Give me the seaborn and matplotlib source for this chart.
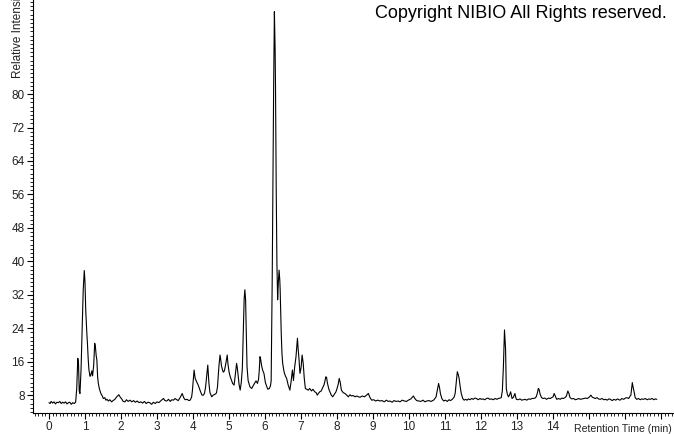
import numpy as np
import pandas as pd
import matplotlib
matplotlib.use('Agg')
import matplotlib.pyplot as plt
from matplotlib.ticker import MultipleLocator
import seaborn as sns

# 保留时间 (min) 与相对强度
retention_time = [
    0.00, 0.03, 0.06, 0.10, 0.14, 0.18, 0.22, 0.26, 0.30, 0.34, 0.38, 0.42, 0.46, 0.50, 0.54, 0.58,
    0.62, 0.66, 0.70, 0.74, 0.77, 0.80, 0.82, 0.84, 0.86, 0.89, 0.92, 0.95, 0.98, 1.00, 1.02, 1.05,
    1.07, 1.09, 1.11, 1.14, 1.16, 1.19, 1.21, 1.24, 1.27, 1.29, 1.31, 1.33, 1.35, 1.37, 1.40, 1.44,
    1.48, 1.51, 1.55, 1.58, 1.61, 1.65, 1.69, 1.74, 1.78, 1.83, 1.88, 1.94, 1.98, 2.02, 2.06, 2.11,
    2.15, 2.20, 2.25, 2.30, 2.35, 2.40, 2.45, 2.50, 2.55, 2.60, 2.65, 2.70, 2.75, 2.80, 2.85, 2.90,
    2.95, 3.00, 3.05, 3.10, 3.15, 3.18, 3.22, 3.27, 3.32, 3.37, 3.41, 3.46, 3.50, 3.55, 3.59, 3.64,
    3.70, 3.74, 3.78, 3.84, 3.88, 3.92, 3.96, 3.98, 4.01, 4.03, 4.06, 4.08, 4.11, 4.14, 4.18, 4.21,
    4.25, 4.29, 4.32, 4.35, 4.38, 4.41, 4.44, 4.47, 4.50, 4.52, 4.56, 4.61, 4.65, 4.68, 4.72, 4.75,
    4.77, 4.79, 4.82, 4.84, 4.87, 4.90, 4.93, 4.95, 4.97, 5.00, 5.03, 5.07, 5.10, 5.14, 5.17, 5.21,
    5.23, 5.25, 5.28, 5.31, 5.34, 5.37, 5.40, 5.42, 5.44, 5.46, 5.48, 5.50, 5.53, 5.58, 5.63, 5.68,
    5.72, 5.75, 5.79, 5.82, 5.84, 5.86, 5.88, 5.91, 5.94, 5.97, 6.01, 6.05, 6.08, 6.12, 6.15, 6.17,
    6.20, 6.22, 6.24, 6.26, 6.28, 6.29, 6.31, 6.33, 6.35, 6.37, 6.39, 6.41, 6.42, 6.45, 6.47, 6.49,
    6.52, 6.54, 6.57, 6.60, 6.64, 6.69, 6.72, 6.76, 6.79, 6.82, 6.86, 6.88, 6.90, 6.92, 6.94, 6.97,
    7.00, 7.03, 7.06, 7.09, 7.12, 7.16, 7.20, 7.24, 7.29, 7.33, 7.38, 7.42, 7.45, 7.49, 7.52, 7.56,
    7.59, 7.64, 7.69, 7.71, 7.73, 7.77, 7.80, 7.84, 7.88, 7.91, 7.94, 7.97, 8.00, 8.03, 8.06, 8.09,
    8.12, 8.17, 8.22, 8.27, 8.31, 8.36, 8.40, 8.45, 8.50, 8.55, 8.59, 8.64, 8.70, 8.76, 8.82, 8.87,
    8.91, 8.96, 9.02, 9.07, 9.13, 9.19, 9.25, 9.31, 9.37, 9.42, 9.47, 9.53, 9.58, 9.64, 9.70, 9.75,
    9.81, 9.87, 9.93, 9.98, 10.05, 10.12, 10.16, 10.21, 10.27, 10.33, 10.39, 10.44, 10.49, 10.55, 10.61, 10.68,
    10.72, 10.75, 10.79, 10.82, 10.85, 10.87, 10.91, 10.96, 11.01, 11.06, 11.11, 11.15, 11.20, 11.25, 11.28, 11.31,
    11.34, 11.37, 11.39, 11.42, 11.45, 11.49, 11.53, 11.57, 11.61, 11.65, 11.69, 11.74, 11.78, 11.83, 11.87, 11.92,
    11.97, 12.01, 12.05, 12.10, 12.15, 12.19, 12.24, 12.29, 12.34, 12.39, 12.44, 12.48, 12.53, 12.56, 12.59, 12.62,
    12.64, 12.65, 12.66, 12.68, 12.69, 12.70, 12.73, 12.76, 12.79, 12.82, 12.84, 12.86, 12.90, 12.94, 12.96, 12.98,
    13.03, 13.08, 13.13, 13.17, 13.22, 13.27, 13.32, 13.37, 13.41, 13.45, 13.50, 13.53, 13.56, 13.59, 13.61, 13.64,
    13.68, 13.72, 13.77, 13.82, 13.87, 13.92, 13.96, 14.00, 14.03, 14.06, 14.10, 14.15, 14.20, 14.24, 14.28, 14.33,
    14.37, 14.41, 14.44, 14.47, 14.52, 14.57, 14.62, 14.66, 14.71, 14.76, 14.81, 14.85, 14.90, 14.95, 15.00, 15.05,
    15.09, 15.12, 15.17, 15.22, 15.26, 15.31, 15.36, 15.41, 15.46, 15.50, 15.55, 15.59, 15.64, 15.69, 15.74, 15.79,
    15.83, 15.86, 15.91, 15.96, 16.01, 16.05, 16.10, 16.14, 16.16, 16.18, 16.20, 16.22, 16.25, 16.28, 16.32, 16.37,
    16.42, 16.46, 16.51, 16.56, 16.61, 16.66, 16.70, 16.75, 16.80, 16.84, 16.88,
]
intensity = [
    6.2, 6.0, 6.5, 6.1, 6.4, 5.9, 6.3, 6.2, 6.5, 6.0, 6.3, 6.1, 6.4, 5.9, 6.2, 6.3,
    5.8, 6.2, 6.0, 6.3, 9.5, 16.8, 15.5, 9.0, 8.4, 14.0, 24.0, 33.0, 37.8, 35.0, 28.4, 23.0,
    20.0, 16.5, 14.0, 12.5, 12.8, 13.8, 12.6, 15.0, 20.4, 19.5, 17.5, 16.4, 12.5, 10.8, 9.5, 8.4,
    7.8, 7.2, 7.4, 6.8, 7.0, 6.6, 6.9, 6.4, 6.7, 7.0, 7.6, 8.1, 7.5, 7.1, 6.5, 6.4,
    6.9, 6.5, 6.8, 6.4, 6.7, 6.3, 6.6, 6.2, 6.4, 6.1, 6.5, 6.0, 6.3, 6.2, 5.8, 6.3,
    6.0, 6.4, 6.2, 6.6, 7.0, 7.2, 6.7, 6.6, 7.0, 6.5, 6.9, 6.8, 7.2, 6.9, 6.7, 7.4,
    8.4, 7.4, 6.9, 7.0, 6.7, 6.8, 7.5, 8.8, 12.0, 14.0, 12.0, 11.6, 11.0, 10.5, 9.5, 8.8,
    8.0, 8.0, 8.5, 10.0, 12.5, 15.2, 11.0, 8.6, 8.0, 7.6, 8.0, 8.2, 8.5, 10.0, 15.0, 17.6,
    16.5, 15.0, 14.0, 13.5, 13.8, 15.0, 16.5, 17.6, 15.5, 13.6, 12.5, 11.5, 10.8, 10.4, 12.5, 15.6,
    14.5, 13.0, 10.5, 9.2, 11.0, 14.5, 25.0, 31.0, 33.2, 30.8, 22.8, 14.8, 11.5, 10.0, 9.6, 10.4,
    11.0, 11.4, 10.8, 11.8, 14.0, 17.2, 16.5, 14.8, 13.8, 13.2, 11.0, 10.0, 9.4, 9.6, 10.2, 11.4,
    36.3, 60.0, 82.6, 99.7, 90.6, 82.6, 57.9, 39.5, 30.8, 35.0, 37.9, 35.5, 33.2, 22.8, 18.0, 15.6,
    14.0, 13.2, 12.5, 12.0, 10.5, 9.2, 11.0, 14.0, 11.5, 14.5, 17.2, 19.5, 21.6, 19.0, 17.0, 13.2,
    14.5, 17.6, 15.6, 12.0, 9.6, 9.4, 9.2, 9.6, 9.0, 9.4, 8.8, 8.6, 8.0, 8.5, 8.8, 9.0,
    9.6, 10.5, 12.4, 12.2, 11.0, 9.5, 8.8, 8.0, 7.6, 8.0, 8.4, 8.8, 9.6, 10.5, 12.0, 11.0,
    9.2, 8.6, 8.4, 8.0, 7.6, 8.1, 7.8, 7.9, 7.6, 7.8, 7.6, 7.5, 7.8, 7.6, 8.0, 8.4,
    7.5, 6.8, 6.9, 6.6, 6.8, 6.6, 6.7, 6.4, 6.8, 6.5, 6.6, 6.3, 6.7, 6.5, 6.6, 6.4,
    6.8, 6.6, 6.5, 6.8, 7.1, 7.8, 7.2, 6.7, 6.6, 6.5, 6.8, 6.4, 6.6, 6.7, 6.5, 6.8,
    7.2, 7.6, 9.5, 10.8, 9.6, 8.4, 7.2, 6.6, 6.8, 6.5, 6.9, 6.7, 7.0, 7.5, 8.4, 11.0,
    13.6, 12.8, 12.0, 10.0, 8.4, 7.2, 6.8, 7.0, 6.8, 7.1, 6.9, 7.2, 7.0, 7.3, 7.2, 6.9,
    7.2, 7.0, 7.1, 6.9, 7.2, 7.3, 7.0, 7.1, 6.9, 7.2, 7.0, 7.2, 7.3, 7.4, 9.0, 14.8,
    21.0, 23.6, 22.0, 19.0, 14.0, 9.6, 8.2, 7.6, 8.0, 8.8, 8.0, 7.2, 7.5, 8.4, 7.6, 7.0,
    6.9, 7.1, 6.8, 6.9, 7.0, 6.8, 7.1, 7.0, 7.2, 7.2, 7.3, 7.6, 8.4, 9.6, 9.4, 8.2,
    7.4, 7.2, 7.3, 7.0, 7.3, 7.2, 7.4, 7.6, 8.4, 7.8, 7.0, 7.2, 7.0, 7.3, 7.2, 7.4,
    7.8, 9.0, 8.4, 7.4, 7.1, 7.2, 6.9, 7.0, 7.2, 7.0, 7.1, 7.2, 7.3, 7.2, 7.5, 8.0,
    7.5, 7.4, 7.2, 7.4, 7.1, 7.0, 7.2, 6.9, 7.0, 6.8, 7.1, 7.0, 6.7, 7.0, 6.8, 7.1,
    6.9, 6.8, 7.2, 7.0, 7.3, 7.4, 7.2, 7.8, 8.0, 9.5, 11.0, 10.0, 8.8, 7.4, 7.0, 7.2,
    6.9, 7.1, 7.0, 7.2, 6.9, 7.1, 7.0, 7.2, 6.9, 7.1, 7.0,
]
x_tick_labels = [str(i) for i in range(15)] + ['', '', '']
y_ticks = [8, 16, 24, 32, 40, 48, 56, 64, 72, 80]

df = pd.DataFrame({'time': retention_time, 'intensity': intensity})

sns.set_style('ticks')
plt.rcParams['font.family'] = ['Liberation Sans', 'DejaVu Sans']

fig = plt.figure(figsize=(6.74, 4.34), dpi=100)
ax = fig.add_axes([33 / 674, 21 / 434, 640 / 674, 413 / 434])

sns.lineplot(data=df, x='time', y='intensity', color='black', linewidth=0.8, ax=ax)

ax.set_xlim(-0.444, 17.33)
ax.set_ylim(3.73, 102.5)
ax.set_xticks(range(18))
ax.set_xticklabels(x_tick_labels)
ax.set_yticks(y_ticks)
ax.xaxis.set_minor_locator(MultipleLocator(0.1))
ax.yaxis.set_minor_locator(MultipleLocator(1))
ax.tick_params(which='major', length=4, width=0.8, color='black', labelsize=8.5, labelcolor='#222222', pad=2)
ax.tick_params(which='minor', length=2, width=0.6, color='black')
for s in ['top', 'right']:
    ax.spines[s].set_visible(False)
for s in ['left', 'bottom']:
    ax.spines[s].set_linewidth(0.8)
    ax.spines[s].set_color('black')

ax.set_xlabel('')
ax.set_ylabel('')
fig.text(672 / 674, 1 - 429 / 434, 'Retention Time (min)', ha='right', va='center',
         fontsize=7.6, color='#222222')
fig.text(18 / 674, 1 - 78 / 434, 'Relative Intensity', rotation=90, ha='center', va='bottom',
         fontsize=8.5, color='#222222')
fig.text(667 / 674, 1 - 14 / 434, 'Copyright NIBIO All Rights reserved.', ha='right', va='center',
         fontsize=13, color='black')

fig.savefig('out.png', dpi=100)
